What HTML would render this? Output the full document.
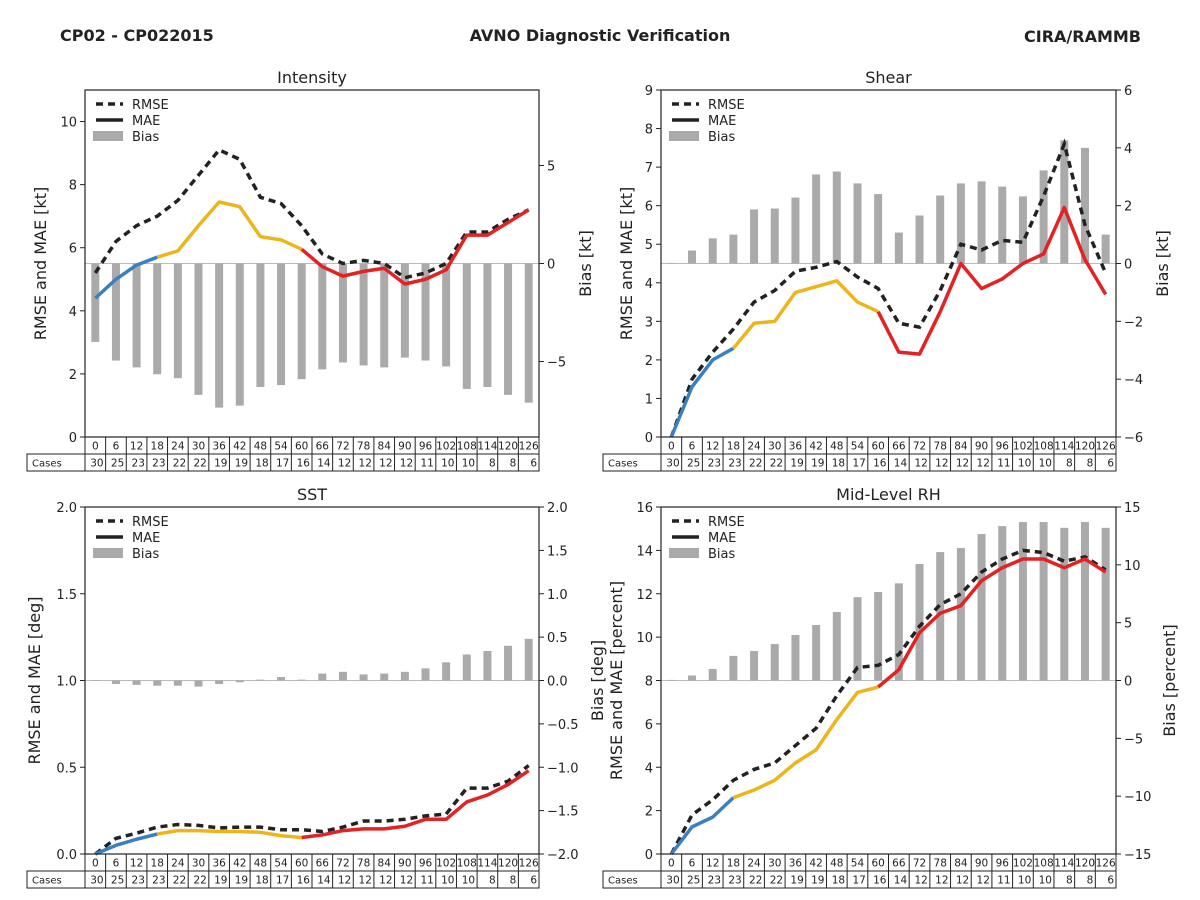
<!DOCTYPE html>
<html><head><meta charset="utf-8">
<style>
html,body{margin:0;padding:0;background:#fff;}
svg{display:block;font-family:"DejaVu Sans","Liberation Sans",sans-serif;}
</style></head>
<body>
<svg id="chart" width="1200" height="900" viewBox="0 0 1200 900">
<text x="60" y="41" font-size="16" font-weight="bold" fill="#222">CP02 - CP022015</text>
<text x="600" y="41" font-size="16" font-weight="bold" fill="#222" text-anchor="middle">AVNO Diagnostic Verification</text>
<text x="1141" y="42" font-size="16" font-weight="bold" fill="#222" text-anchor="end">CIRA/RAMMB</text>
</svg>
<script>
const leadTimes = [0,6,12,18,24,30,36,42,48,54,60,66,72,78,84,90,96,102,108,114,120,126];
const cases = [30,25,23,23,22,22,19,19,18,17,16,14,12,12,12,12,11,10,10,8,8,6];

const intRmse = [5.2,6.2,6.7,7.0,7.5,8.3,9.1,8.8,7.6,7.4,6.7,5.8,5.5,5.6,5.5,5.05,5.2,5.5,6.5,6.5,6.9,7.2];
const intMae = [4.4,5.0,5.45,5.7,5.9,6.7,7.45,7.3,6.35,6.25,5.95,5.4,5.1,5.25,5.35,4.85,5.0,5.3,6.4,6.4,6.8,7.2];
const intBias = [-4.0,-4.95,-5.3,-5.65,-5.85,-6.7,-7.35,-7.25,-6.3,-6.2,-5.9,-5.4,-5.05,-5.2,-5.3,-4.8,-4.95,-5.25,-6.4,-6.3,-6.7,-7.1];

const shrRmse = [0,1.5,2.2,2.8,3.5,3.8,4.3,4.4,4.55,4.15,3.85,2.95,2.85,3.8,5.0,4.85,5.1,5.05,6.25,7.6,5.5,4.25];
const shrMae = [0,1.3,2.0,2.3,2.95,3.0,3.75,3.9,4.05,3.5,3.25,2.2,2.15,3.25,4.5,3.85,4.1,4.5,4.75,5.95,4.6,3.7];
const shrBias = [0.02,0.45,0.87,1.0,1.87,1.9,2.28,3.08,3.18,2.77,2.4,1.07,1.66,2.35,2.77,2.84,2.66,2.32,3.22,4.26,4.0,1.0];

const sstRmse = [0,0.09,0.12,0.155,0.17,0.165,0.15,0.155,0.155,0.14,0.14,0.13,0.155,0.19,0.19,0.2,0.22,0.23,0.38,0.38,0.42,0.51];
const sstMae = [0,0.05,0.085,0.115,0.135,0.135,0.13,0.13,0.125,0.105,0.095,0.11,0.135,0.145,0.145,0.16,0.2,0.2,0.3,0.34,0.4,0.48];
const sstBias = [0.0,-0.04,-0.05,-0.06,-0.06,-0.07,-0.04,-0.02,0.01,0.04,0.01,0.08,0.1,0.07,0.08,0.1,0.14,0.21,0.3,0.34,0.4,0.48];

const rhRmse = [0,1.8,2.5,3.4,3.9,4.2,5.0,5.8,7.3,8.6,8.7,9.2,10.5,11.5,12.0,13.0,13.6,14.0,13.9,13.5,13.7,13.1];
const rhMae = [0,1.25,1.7,2.6,2.95,3.4,4.2,4.8,6.2,7.45,7.7,8.5,10.2,11.1,11.45,12.6,13.2,13.6,13.6,13.2,13.6,13.0];
const rhBias = [0.05,0.43,1.0,2.13,2.55,3.15,3.93,4.8,5.92,7.2,7.65,8.4,10.07,11.1,11.45,12.66,13.35,13.7,13.7,13.2,13.7,13.2];

const intLeftTicks = [0,2,4,6,8,10];
const intRightTicks = [-5,0,5];
const shrLeftTicks = [0,1,2,3,4,5,6,7,8,9];
const shrRightTicks = [-6,-4,-2,0,2,4,6];
const sstLeftTicks = ["0.0","0.5","1.0","1.5","2.0"];
const sstRightTicks = ["-2.0","-1.5","-1.0","-0.5","0.0","0.5","1.0","1.5","2.0"];
const rhLeftTicks = [0,2,4,6,8,10,12,14,16];
const rhRightTicks = [-15,-10,-5,0,5,10,15];

const NS = "http://www.w3.org/2000/svg";
const svg = document.getElementById('chart');
function mk(tag, attrs, parent, text){
  const e = document.createElementNS(NS, tag);
  for (const k in attrs) e.setAttribute(k, attrs[k]);
  if (text !== undefined) e.textContent = text;
  (parent||svg).appendChild(e);
  return e;
}
function fmt(v){ return String(v).replace('-', '\u2212'); }

function panel(cfg){
  const g = mk('g', {});
  
  
  const {x0,x1,y0,y1} = cfg;
  const cw = (x1-x0)/leadTimes.length;
  const xs = i => x0 + cw*(i+0.5);
  const yl = v => y1 - (v-cfg.lmin)/(cfg.lmax-cfg.lmin)*(y1-y0);
  const yr = v => y1 - (v-cfg.rmin)/(cfg.rmax-cfg.rmin)*(y1-y0);

  const zl = mk('line', {x1:x0, x2:x1, y1:yr(0), y2:yr(0), stroke:'#bbb', 'stroke-width':1}, g);
  
  
  cfg.bias.forEach((b,i)=>{
    const top = Math.min(yr(b), yr(0)), h = Math.abs(yr(b)-yr(0));
    const r = mk('rect', {x:xs(i)-4, y:top, width:8, height:Math.max(h,0.5), fill:'#aaaaaa'}, g);
    
    
  });
  const rp = cfg.rmse.map((v,i)=>xs(i)+','+yl(v)).join(' ');
  const rl = mk('polyline', {points:rp, fill:'none', stroke:'#222', 'stroke-width':3.5, 'stroke-dasharray':'7,5'}, g);
  
  
  const segs = [[0,3,'#3a80c0'],[3,10,'#ecb51c'],[10,21,'#e32224']];
  segs.forEach(s=>{
    const pts = [];
    for (let i=s[0]; i<=s[1]; i++) pts.push(xs(i)+','+yl(cfg.mae[i]));
    const l = mk('polyline', {points:pts.join(' '), fill:'none', stroke:s[2], 'stroke-width':3.5, 'stroke-linejoin':'round'}, g);
    
    
  });
  const fr = mk('rect', {x:x0, y:y0, width:x1-x0, height:y1-y0, fill:'none', stroke:'#222', 'stroke-width':1.2}, g);
  
  
  cfg.lticks.forEach(t=>{
    const y = yl(parseFloat(t));
    mk('line', {x1:x0-5, x2:x0, y1:y, y2:y, stroke:'#222'}, g);
    const tx = mk('text', {x:x0-8, y:y+5, 'font-size':13, fill:'#222', 'text-anchor':'end'}, g, fmt(t));
    
    
  });
  cfg.rticks.forEach(t=>{
    const y = yr(parseFloat(t));
    mk('line', {x1:x1, x2:x1+5, y1:y, y2:y, stroke:'#222'}, g);
    const tx = mk('text', {x:x1+8, y:y+5, 'font-size':13, fill:'#222'}, g, fmt(t));
    
    
  });
  const tt = mk('text', {x:(x0+x1)/2, y:y0-7, 'font-size':16, fill:'#222', 'text-anchor':'middle'}, g, cfg.title);
  
  
  const cy = (y0+y1)/2;
  const ll = mk('text', {x:cfg.llx, y:cy, 'font-size':16, fill:'#222', 'text-anchor':'middle', transform:`rotate(-90 ${cfg.llx} ${cy})`}, g, cfg.llabel);
  
  
  const rl2 = mk('text', {x:cfg.rlx, y:cy, 'font-size':16, fill:'#222', 'text-anchor':'middle', transform:`rotate(-90 ${cfg.rlx} ${cy})`}, g, cfg.rlabel);
  
  
  const lg = mk('g', {}, g);
  
  
  const lx = x0+10, ly = y0+14;
  mk('line', {x1:lx+1, x2:lx+28, y1:ly, y2:ly, stroke:'#222', 'stroke-width':3.5, 'stroke-dasharray':'7,5'}, lg);
  mk('text', {x:lx+37, y:ly+5, 'font-size':13, fill:'#222'}, lg, 'RMSE');
  mk('line', {x1:lx+1, x2:lx+28, y1:ly+16, y2:ly+16, stroke:'#222', 'stroke-width':3.5}, lg);
  mk('text', {x:lx+37, y:ly+21, 'font-size':13, fill:'#222'}, lg, 'MAE');
  mk('rect', {x:lx-2, y:ly+27, width:30, height:10, fill:'#aaaaaa'}, lg);
  mk('text', {x:lx+37, y:ly+37, 'font-size':13, fill:'#222'}, lg, 'Bias');
  const tb = mk('g', {}, g);
  
  
  const r1 = y1, r2 = y1+17, r3 = y1+34;
  mk('rect', {x:x0, y:r1, width:x1-x0, height:17, fill:'none', stroke:'#222'}, tb);
  mk('rect', {x:x0-58, y:r2, width:x1-x0+58, height:17, fill:'none', stroke:'#222'}, tb);
  mk('line', {x1:x0, x2:x0, y1:r2, y2:r3, stroke:'#222'}, tb);
  mk('text', {x:x0-53, y:r2+12.5, 'font-size':10, fill:'#222'}, tb, 'Cases');
  leadTimes.forEach((lt,i)=>{
    const cx = x0 + cw*i;
    if (i>0){ mk('line', {x1:cx, x2:cx, y1:r1, y2:r3, stroke:'#222'}, tb); }
    mk('text', {x:cx+cw/2, y:r1+12.5, 'font-size':10.5, fill:'#222', 'text-anchor':'middle'}, tb, lt);
    mk('text', {x:cx+cw-2, y:r2+12.5, 'font-size':10.5, fill:'#222', 'text-anchor':'end'}, tb, cases[i]);
  });
}

panel({key:'intensity', title:'Intensity', x0:85, x1:539, y0:90, y1:437, lmin:0, lmax:11, rmin:-8.85, rmax:8.85,
  rmse:intRmse, mae:intMae, bias:intBias, lticks:intLeftTicks, rticks:intRightTicks,
  llabel:'RMSE and MAE [kt]', rlabel:'Bias [kt]', llx:46, rlx:591});
panel({key:'shear', title:'Shear', x0:661, x1:1116, y0:90, y1:437, lmin:0, lmax:9, rmin:-6, rmax:6,
  rmse:shrRmse, mae:shrMae, bias:shrBias, lticks:shrLeftTicks, rticks:shrRightTicks,
  llabel:'RMSE and MAE [kt]', rlabel:'Bias [kt]', llx:632, rlx:1168});
panel({key:'sst', title:'SST', x0:85, x1:539, y0:507, y1:854, lmin:0, lmax:2, rmin:-2, rmax:2,
  rmse:sstRmse, mae:sstMae, bias:sstBias, lticks:sstLeftTicks, rticks:sstRightTicks,
  llabel:'RMSE and MAE [deg]', rlabel:'Bias [deg]', llx:40, rlx:603});
panel({key:'midlevel-rh', title:'Mid-Level RH', x0:661, x1:1116, y0:507, y1:854, lmin:0, lmax:16, rmin:-15, rmax:15,
  rmse:rhRmse, mae:rhMae, bias:rhBias, lticks:rhLeftTicks, rticks:rhRightTicks,
  llabel:'RMSE and MAE [percent]', rlabel:'Bias [percent]', llx:622, rlx:1175});
</script>
</body></html>
